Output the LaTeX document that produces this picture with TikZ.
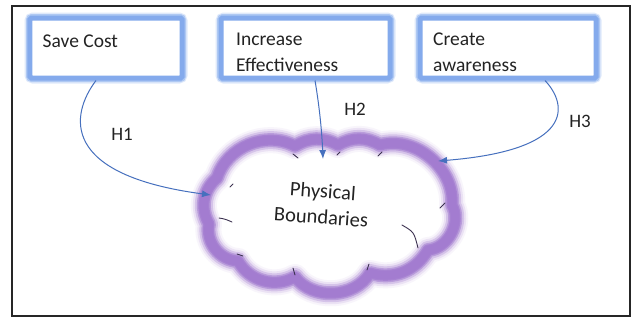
\documentclass[tikz,border=0pt]{standalone}
\usepackage{fontspec}
\setmainfont{Carlito}
\usetikzlibrary{arrows.meta}

\definecolor{glowblue}{RGB}{150,184,240}
\definecolor{coreblue}{RGB}{132,170,236}
\definecolor{cloudpurple}{RGB}{163,124,208}
\definecolor{linkblue}{RGB}{70,112,190}
\definecolor{markink}{RGB}{60,50,80}
\definecolor{ink}{RGB}{35,35,35}

\tikzset{
  boxglow/.style={draw=glowblue, line width=11bp, draw opacity=0.3, rounded corners=3bp},
  boxhalo/.style={draw=glowblue, line width=8bp, draw opacity=0.65, rounded corners=2bp},
  boxcore/.style={draw=coreblue, line width=5bp, rounded corners=1.5bp, fill=white},
  boxtext/.style={text=ink, font=\fontsize{19.5bp}{26bp}\selectfont, inner sep=0pt, anchor=base west},
  hyplabel/.style={text=ink, font=\fontsize{19bp}{23bp}\selectfont, inner sep=0pt},
  cloudtext/.style={text=ink, font=\fontsize{20.5bp}{26bp}\selectfont, align=center, inner sep=0pt},
  link/.style={draw=linkblue, line width=1bp, -{Latex[length=9bp,width=7bp]}},
  cloudline/.style={line join=round, line cap=round, draw=cloudpurple},
  puffmark/.style={draw=markink, line width=0.9bp, line cap=round},
}

\begin{document}
\begin{tikzpicture}[x=1bp, y=-1bp]
\useasboundingbox (0,0) rectangle (635,320);
\fill[white] (0,0) rectangle (635,320);

% outer frame
\draw[black!85, line width=1.3bp] (12,6) rectangle (630,316);

% boxes (glow in three passes)
\foreach \a/\b in {{30,18}/{182,78}, {221,18}/{390,78}, {420,18}/{596,78}}{
  \draw[boxglow] (\a) rectangle (\b);
  \draw[boxhalo] (\a) rectangle (\b);
}
\node[boxcore, minimum width=152bp, minimum height=60bp, inner sep=0pt] (save) at (106,48) {};
\node[boxcore, minimum width=169bp, minimum height=60bp, inner sep=0pt] (incr) at (305.5,48) {};
\node[boxcore, minimum width=176bp, minimum height=60bp, inner sep=0pt] (crea) at (508,48) {};

\node[boxtext] (savet) at (42.5,47) {Save Cost};
\node[boxtext] (incrt1) at (236,45) {Increase};
\node[boxtext] (incrt2) at (236,71) {Effectiveness};
\node[boxtext] (creat1) at (433,45) {Create};
\node[boxtext] (creat2) at (433,71) {awareness};

% cloud outline: puffs between valley points
\coordinate (p1) at (209,224);
\coordinate (p2) at (217,178);
\coordinate (p3) at (295,146);
\coordinate (p4) at (338,145);
\coordinate (p5) at (380,145);
\coordinate (p6) at (452,205);
\coordinate (p7) at (428,250);
\coordinate (p8) at (370,273);
\coordinate (p9) at (295,277);
\coordinate (p10) at (238,261);
\def\cloudoutline{(p1) to[bend left=40] (p2) to[bend left=50] (p3) to[bend left=30] (p4)
  to[bend left=30] (p5) to[bend left=55] (p6) to[bend left=58] (p7) to[bend left=38] (p8)
  to[bend left=56] (p9) to[bend left=45] (p10) to[bend left=50] (p1) -- cycle}

% soft purple rim, built up from wide faint strokes to a narrow solid one
\fill[white] \cloudoutline;
\draw[cloudline, line width=26bp, draw opacity=0.07] \cloudoutline;
\draw[cloudline, line width=22bp, draw opacity=0.15] \cloudoutline;
\draw[cloudline, line width=18bp, draw opacity=0.3] \cloudoutline;
\draw[cloudline, line width=14bp, draw opacity=0.55] \cloudoutline;
\draw[cloudline, line width=11bp, draw opacity=0.8] \cloudoutline;
\draw[cloudline, line width=8.5bp] \cloudoutline;

% inner puff arcs
\draw[puffmark] (293,154) -- (298,158);
\draw[puffmark] (337,155) -- (340,152);
\draw[puffmark] (378,156) -- (382,152);
\draw[puffmark] (230,187) -- (233,184);
\draw[puffmark] (219,218) .. controls (225,219) .. (232,222);
\draw[puffmark] (237,254) -- (243,256);
\draw[puffmark] (293,268) -- (295,275);
\draw[puffmark] (367,270) -- (369,264);
\draw[puffmark] (402,225) .. controls (414,232) .. (418,248);
\draw[puffmark] (440,208) -- (445,203);

\node[cloudtext, rotate=-4] (phys) at (322,204) {Physical\\Boundaries};

% hypothesis links
\coordinate (h1end) at (211,195);
\coordinate (h2end) at (323,159);
\coordinate (h3end) at (438,161);
\draw[link] ([xshift=-10bp]save.south) .. controls (70,115) and (60,175) .. (h1end);
\draw[link] ([xshift=9.5bp]incr.south) .. controls (320,110) and (322,135) .. (h2end);
\draw[link] ([xshift=37bp]crea.south) .. controls (568,105) and (575,150) .. (h3end);

\node[hyplabel] (hyp1) at (122,134) {H1};
\node[hyplabel] (hyp2) at (355,109) {H2};
\node[hyplabel] (hyp3) at (580,121) {H3};
\end{tikzpicture}
\end{document}
